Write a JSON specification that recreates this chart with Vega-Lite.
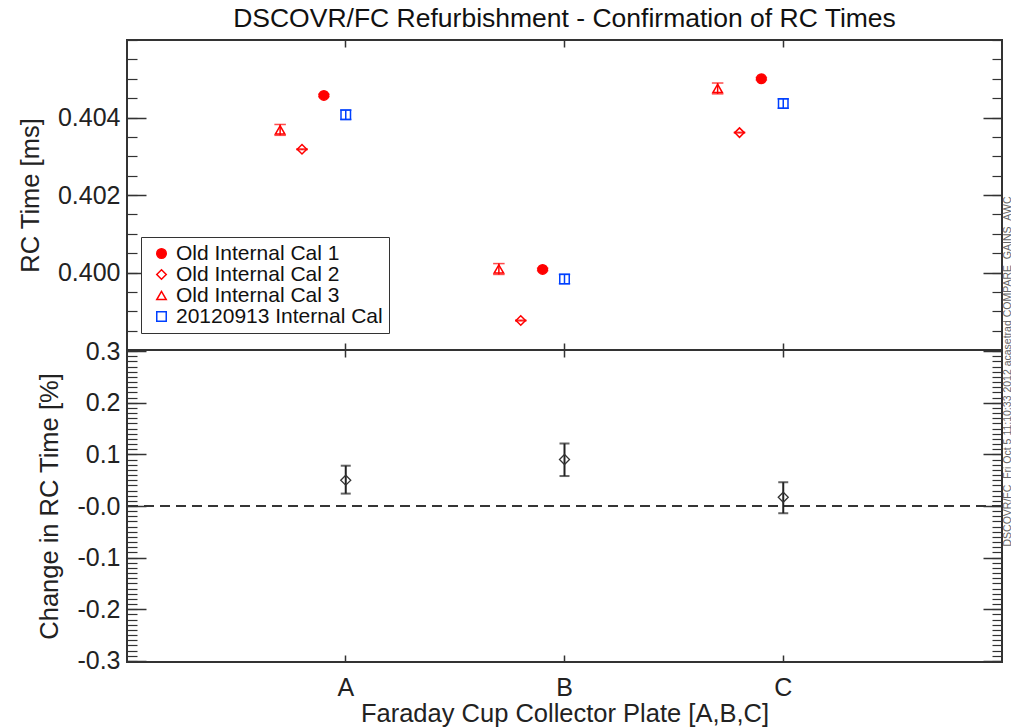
{
  "$schema": "https://vega.github.io/schema/vega-lite/v6.json",
  "background": "white",
  "padding": {"left": 17, "top": 4, "right": 0, "bottom": 0},
  "bounds": "flush",
  "spacing": 0,
  "datasets": {
    "top": [
      {"plate": "A", "series": "Old Internal Cal 1", "rc": 0.40457, "lo": 0.40454, "hi": 0.40460},
      {"plate": "A", "series": "Old Internal Cal 2", "rc": 0.40318, "lo": 0.40317, "hi": 0.40319},
      {"plate": "A", "series": "Old Internal Cal 3", "rc": 0.40368, "lo": 0.40354, "hi": 0.40382},
      {"plate": "A", "series": "20120913 Internal Cal", "rc": 0.40407, "lo": 0.40395, "hi": 0.40419},
      {"plate": "B", "series": "Old Internal Cal 1", "rc": 0.40008, "lo": 0.40005, "hi": 0.40011},
      {"plate": "B", "series": "Old Internal Cal 2", "rc": 0.39876, "lo": 0.39875, "hi": 0.39877},
      {"plate": "B", "series": "Old Internal Cal 3", "rc": 0.40009, "lo": 0.39995, "hi": 0.40023},
      {"plate": "B", "series": "20120913 Internal Cal", "rc": 0.39983, "lo": 0.39971, "hi": 0.39995},
      {"plate": "C", "series": "Old Internal Cal 1", "rc": 0.40500, "lo": 0.40497, "hi": 0.40503},
      {"plate": "C", "series": "Old Internal Cal 2", "rc": 0.40361, "lo": 0.40360, "hi": 0.40362},
      {"plate": "C", "series": "Old Internal Cal 3", "rc": 0.40475, "lo": 0.40461, "hi": 0.40489},
      {"plate": "C", "series": "20120913 Internal Cal", "rc": 0.40436, "lo": 0.40424, "hi": 0.40448}
    ],
    "bottom": [
      {"plate": "A", "change": 0.050, "lo": 0.024, "hi": 0.078},
      {"plate": "B", "change": 0.090, "lo": 0.058, "hi": 0.121},
      {"plate": "C", "change": 0.017, "lo": -0.014, "hi": 0.046}
    ]
  },
  "config": {
    "font": "Liberation Sans",
    "view": {"stroke": "#333", "strokeWidth": 2},
    "axis": {
      "grid": false, "domain": false,
      "labelFont": "Liberation Sans", "titleFont": "Liberation Sans",
      "labelFontSize": 25, "titleFontSize": 25.5, "titleFontWeight": "normal",
      "labelColor": "#222", "titleColor": "#222", "tickColor": "#333", "tickWidth": 1.5
    },
    "legend": {
      "labelFont": "Liberation Sans", "labelFontSize": 21, "labelColor": "#111", "labelLimit": 0,
      "strokeColor": "#333", "fillColor": "white", "padding": 6,
      "symbolOffset": 4, "labelOffset": 4, "rowPadding": -2, "symbolSize": 90, "symbolStrokeWidth": 1.5, "symbolOpacity": 1
    }
  },
  "vconcat": [
    {
      "width": 875, "height": 310,
      "data": {"name": "top"},
      "title": {"text": "DSCOVR/FC Refurbishment - Confirmation of RC Times", "fontSize": 26.5, "font": "Liberation Sans", "fontWeight": "normal", "anchor": "middle", "frame": "group", "offset": 7, "color": "#111"},
      "layer": [
        {
          "mark": {"type": "rule", "strokeWidth": 1.5},
          "encoding": {
            "x": {"field": "plate", "type": "nominal", "scale": {"type": "band", "paddingInner": 0, "paddingOuter": 0.5}, "axis": {"orient": "bottom", "labels": false, "title": null, "tickSize": -7}},
            "xOffset": {"field": "series", "type": "nominal", "scale": {"type": "band", "domain": ["s1", "Old Internal Cal 3", "Old Internal Cal 2", "Old Internal Cal 1", "20120913 Internal Cal", "s3", "s4", "s5", "s6"], "paddingInner": 0, "paddingOuter": 0.5}},
            "y": {"field": "lo", "type": "quantitative", "scale": {"domain": [0.398, 0.406], "nice": false, "zero": false}, "axis": {"orient": "left", "values": [0.400, 0.402, 0.404], "format": ".3f", "tickSize": -19, "labelPadding": 26, "title": "RC Time [ms]", "titlePadding": 14}},
            "y2": {"field": "hi"},
            "stroke": {"field": "series", "type": "nominal", "scale": {"domain": ["Old Internal Cal 1", "Old Internal Cal 2", "Old Internal Cal 3", "20120913 Internal Cal"], "range": ["#ff0000", "#ff0000", "#ff0000", "#0040ff"]}}
          }
        },
        {
          "mark": {"type": "tick", "size": 10, "thickness": 0.01, "filled": false, "strokeWidth": 1.5},
          "encoding": {
            "x": {"field": "plate", "type": "nominal", "axis": {"orient": "top", "labels": false, "title": null, "tickSize": -7}},
            "xOffset": {"field": "series", "type": "nominal"},
            "y": {"field": "lo", "type": "quantitative", "axis": {"orient": "left", "values": [0.398, 0.3985, 0.399, 0.3995, 0.400, 0.4005, 0.401, 0.4015, 0.402, 0.4025, 0.403, 0.4035, 0.404, 0.4045, 0.405, 0.4055, 0.406], "labels": false, "tickSize": -10, "tickWidth": 1.2, "title": null}},
            "stroke": {"field": "series", "type": "nominal"}
          }
        },
        {
          "mark": {"type": "tick", "size": 10, "thickness": 0.01, "filled": false, "strokeWidth": 1.5},
          "encoding": {
            "x": {"field": "plate", "type": "nominal", "axis": null},
            "xOffset": {"field": "series", "type": "nominal"},
            "y": {"field": "hi", "type": "quantitative", "axis": {"orient": "right", "values": [0.400, 0.402, 0.404], "labels": false, "tickSize": -19, "title": "DSCOVR/FC_Fri Oct  5 11:10:33 2012  acasetrad COMPARE_GAINS_AWC", "titleFontSize": 10.5, "titleColor": "#666", "titleAngle": 270, "titleX": 5, "titleY": 331, "titleAlign": "center", "titleBaseline": "middle"}},
            "stroke": {"field": "series", "type": "nominal"}
          }
        },
        {
          "mark": {"type": "point", "strokeWidth": 1.5, "size": 90, "opacity": 1},
          "encoding": {
            "x": {"field": "plate", "type": "nominal", "axis": null},
            "xOffset": {"field": "series", "type": "nominal"},
            "y": {"field": "rc", "type": "quantitative", "axis": {"orient": "right", "values": [0.398, 0.3985, 0.399, 0.3995, 0.400, 0.4005, 0.401, 0.4015, 0.402, 0.4025, 0.403, 0.4035, 0.404, 0.4045, 0.405, 0.4055, 0.406], "labels": false, "tickSize": -10, "tickWidth": 1.2, "title": null}},
            "shape": {"field": "series", "type": "nominal", "scale": {"domain": ["Old Internal Cal 1", "Old Internal Cal 2", "Old Internal Cal 3", "20120913 Internal Cal"], "range": ["circle", "diamond", "triangle-up", "square"]}, "legend": {"orient": "none", "legendX": 14, "legendY": 197, "title": null}},
            "stroke": {"field": "series", "type": "nominal", "legend": {"orient": "none", "legendX": 14, "legendY": 197, "title": null}},
            "fill": {"field": "series", "type": "nominal", "scale": {"domain": ["Old Internal Cal 1", "Old Internal Cal 2", "Old Internal Cal 3", "20120913 Internal Cal"], "range": ["#ff0000", "transparent", "transparent", "transparent"]}, "legend": {"orient": "none", "legendX": 14, "legendY": 197, "title": null}}
          }
        }
      ],
      "resolve": {"axis": {"x": "independent", "y": "independent"}}
    },
    {
      "width": 875, "height": 312,
      "data": {"name": "bottom"},
      "layer": [
        {
          "mark": {"type": "rule", "strokeDash": [10, 6], "color": "#333", "strokeWidth": 1.5},
          "encoding": {
            "y": {"datum": 0, "type": "quantitative", "scale": {"domain": [-0.302, 0.302], "nice": false, "zero": false}, "axis": {"orient": "left", "values": [-0.3, -0.2, -0.1, 0, 0.1, 0.2, 0.3], "labelExpr": "(datum.value <= 0 ? '-' : '') + format(abs(datum.value), '.1f')", "tickSize": -19, "labelPadding": 26, "title": "Change in RC Time [%]", "titlePadding": 14}}
          }
        },
        {
          "mark": {"type": "rule", "strokeWidth": 2, "color": "#222"},
          "encoding": {
            "x": {"field": "plate", "type": "nominal", "scale": {"type": "band", "paddingInner": 0, "paddingOuter": 0.5}, "axis": {"orient": "bottom", "labelAngle": 0, "tickSize": -7, "labelPadding": 20, "title": "Faraday Cup Collector Plate [A,B,C]", "titlePadding": 1}},
            "y": {"field": "lo", "type": "quantitative", "axis": {"orient": "left", "values": [-0.3, -0.29, -0.28, -0.27, -0.26, -0.25, -0.24, -0.23, -0.22, -0.21, -0.2, -0.19, -0.18, -0.17, -0.16, -0.15, -0.14, -0.13, -0.12, -0.11, -0.1, -0.09, -0.08, -0.07, -0.06, -0.05, -0.04, -0.03, -0.02, -0.01, 0, 0.01, 0.02, 0.03, 0.04, 0.05, 0.06, 0.07, 0.08, 0.09, 0.1, 0.11, 0.12, 0.13, 0.14, 0.15, 0.16, 0.17, 0.18, 0.19, 0.2, 0.21, 0.22, 0.23, 0.24, 0.25, 0.26, 0.27, 0.28, 0.29, 0.3], "labels": false, "tickSize": -10, "tickWidth": 1.2, "title": null}},
            "y2": {"field": "hi"}
          }
        },
        {
          "mark": {"type": "tick", "size": 10, "thickness": 2, "color": "#222"},
          "encoding": {
            "x": {"field": "plate", "type": "nominal", "axis": {"orient": "top", "labels": false, "title": null, "tickSize": -7}},
            "y": {"field": "lo", "type": "quantitative", "axis": {"orient": "right", "values": [-0.3, -0.2, -0.1, 0, 0.1, 0.2, 0.3], "labels": false, "tickSize": -19, "title": null}}
          }
        },
        {
          "mark": {"type": "tick", "size": 10, "thickness": 2, "color": "#222"},
          "encoding": {
            "x": {"field": "plate", "type": "nominal", "axis": null},
            "y": {"field": "hi", "type": "quantitative", "axis": {"orient": "right", "values": [-0.3, -0.29, -0.28, -0.27, -0.26, -0.25, -0.24, -0.23, -0.22, -0.21, -0.2, -0.19, -0.18, -0.17, -0.16, -0.15, -0.14, -0.13, -0.12, -0.11, -0.1, -0.09, -0.08, -0.07, -0.06, -0.05, -0.04, -0.03, -0.02, -0.01, 0, 0.01, 0.02, 0.03, 0.04, 0.05, 0.06, 0.07, 0.08, 0.09, 0.1, 0.11, 0.12, 0.13, 0.14, 0.15, 0.16, 0.17, 0.18, 0.19, 0.2, 0.21, 0.22, 0.23, 0.24, 0.25, 0.26, 0.27, 0.28, 0.29, 0.3], "labels": false, "tickSize": -10, "tickWidth": 1.2, "title": null}}
          }
        },
        {
          "mark": {"type": "point", "shape": "diamond", "size": 100, "strokeWidth": 1.3, "color": "#333", "filled": false, "opacity": 1},
          "encoding": {
            "x": {"field": "plate", "type": "nominal", "axis": null},
            "y": {"field": "change", "type": "quantitative", "axis": null}
          }
        }
      ],
      "resolve": {"axis": {"x": "independent", "y": "independent"}}
    }
  ]
}
